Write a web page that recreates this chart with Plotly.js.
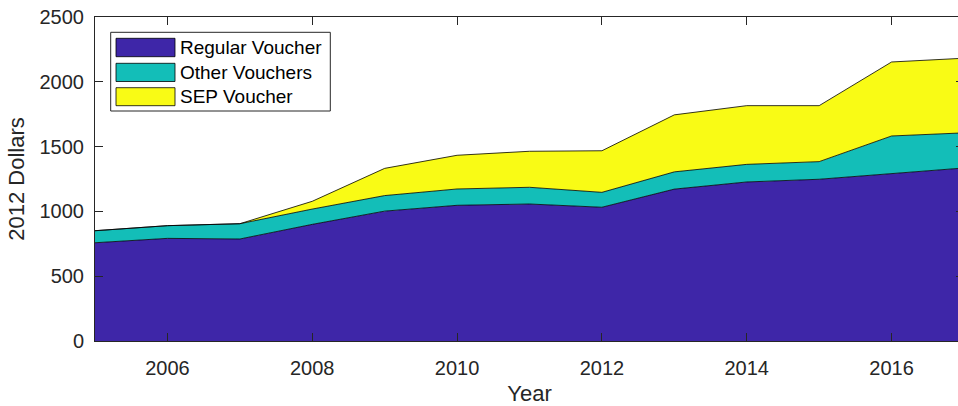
<!DOCTYPE html>
<html>
<head>
<meta charset="utf-8">
<script src="https://cdn.plot.ly/plotly-3.0.1.min.js"></script>
<style>
html, body { margin: 0; padding: 0; overflow: hidden; background: #fff; }
#chart { width: 965px; height: 406px; }
</style>
</head>
<body>
<div id="chart"></div>
<script>
// ---- data ----
const years = [2005, 2006, 2007, 2008, 2009, 2010, 2011, 2012, 2013, 2014, 2015, 2016, 2017];
const regularVoucher = [758, 792, 787, 900, 1002, 1047, 1057, 1032, 1172, 1227, 1248, 1291, 1335];
const otherVouchers  = [93, 98, 118, 118, 120, 126, 129, 115, 133, 136, 136, 291, 271];
const sepVoucher     = [0, 0, 0, 60, 210, 260, 278, 321, 440, 453, 432, 571, 576];
const seriesNames = ["Regular Voucher", "Other Vouchers", "SEP Voucher"];
const xTickVals = [2006, 2008, 2010, 2012, 2014, 2016];
const yTickVals = [0, 500, 1000, 1500, 2000, 2500];

// ---- style ----
const colors = ["#3e26a8", "#13beb8", "#f9fb15"];
const W = 965, H = 406;
const M = {l: 95, r: 1, t: 17, b: 65};
const plotW = W - M.l - M.r, plotH = H - M.t - M.b;
const px2x = p => (p - M.l) / plotW;
const py2y = p => (H - M.b - p) / plotH;

const series = [regularVoucher, otherVouchers, sepVoucher];
const traces = series.map((vals, i) => ({
  type: "scatter",
  mode: "lines",
  x: years,
  y: vals,
  name: seriesNames[i],
  stackgroup: "one",
  fillcolor: colors[i],
  line: {color: "#000", width: 0.8},
  hoverinfo: "x+y+name"
}));

// custom MATLAB-style legend
const legBox = {x0: 110.7, x1: 330.3, y0: 32.3, y1: 111};
const rows = [[38.3, 56.7], [63.3, 81.5], [87.7, 105.7]];
const shapes = [{
  type: "rect", xref: "paper", yref: "paper",
  x0: px2x(legBox.x0), x1: px2x(legBox.x1), y0: py2y(legBox.y1), y1: py2y(legBox.y0),
  fillcolor: "#fff", line: {color: "#262626", width: 1}
}];
const annotations = [];
rows.forEach((r, i) => {
  shapes.push({
    type: "rect", xref: "paper", yref: "paper",
    x0: px2x(116), x1: px2x(175), y0: py2y(r[1]), y1: py2y(r[0]),
    fillcolor: colors[i], line: {color: "#000", width: 0.8}
  });
  annotations.push({
    xref: "paper", yref: "paper", x: px2x(178), y: py2y((r[0] + r[1]) / 2),
    xanchor: "left", yanchor: "middle", showarrow: false,
    text: seriesNames[i],
    font: {family: "Liberation Sans, Arial, sans-serif", size: 19, color: "#000"}
  });
});

const axisCommon = {
  showgrid: false, zeroline: false,
  showline: true, linecolor: "#262626", linewidth: 1, mirror: "ticks",
  ticks: "inside", ticklen: 8, tickcolor: "#262626", tickwidth: 1,
  tickfont: {family: "Liberation Sans, Arial, sans-serif", size: 20, color: "#262626"}
};

const layout = {
  width: W, height: H,
  margin: M,
  paper_bgcolor: "#fff", plot_bgcolor: "#fff",
  showlegend: false,
  xaxis: Object.assign({}, axisCommon, {
    range: [2005, 2017],
    tickvals: xTickVals,
    ticktext: xTickVals.map(String),
    ticklabelstandoff: 9,
    title: {text: "Year", font: {family: "Liberation Sans, Arial, sans-serif", size: 22, color: "#262626"}, standoff: 9}
  }),
  yaxis: Object.assign({}, axisCommon, {
    range: [0, 2500],
    tickvals: yTickVals,
    ticktext: yTickVals.map(String),
    ticklabelstandoff: 6,
    title: {text: "2012 Dollars", font: {family: "Liberation Sans, Arial, sans-serif", size: 22, color: "#262626"}, standoff: 8}
  }),
  shapes: shapes,
  annotations: annotations
};

Plotly.newPlot("chart", traces, layout, {displayModeBar: false, staticPlot: true});
</script>
</body>
</html>
